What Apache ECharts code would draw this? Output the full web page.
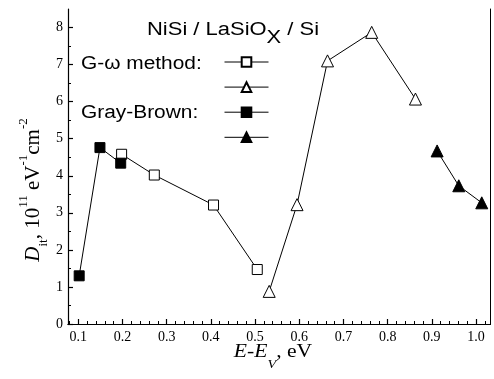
<!DOCTYPE html>
<html>
<head>
<meta charset="utf-8">
<script src="https://cdn.jsdelivr.net/npm/echarts@6/dist/echarts.min.js"></script>
<style>
	html, body { margin: 0; padding: 0; background: #fff; }
	#chart { width: 494px; height: 379px; }
</style>
</head>
<body>
<div id="chart"></div>
<script>
// G-omega method
const gwSquareE = [0.198, 0.272, 0.406, 0.505];
const gwSquareD = [4.58, 4.02, 3.21, 1.47];
const gwTriangleE = [0.532, 0.595, 0.664, 0.764, 0.863];
const gwTriangleD = [0.88, 3.22, 7.1, 7.87, 6.07];
// Gray-Brown
const gbSquareE = [0.102, 0.149, 0.196];
const gbSquareD = [1.3, 4.76, 4.34];
const gbTriangleE = [0.912, 0.961, 1.013];
const gbTriangleD = [4.67, 3.73, 3.27];

const xTickLabels = [0.1, 0.2, 0.3, 0.4, 0.5, 0.6, 0.7, 0.8, 0.9, 1.0];
const yTickLabels = [0, 1, 2, 3, 4, 5, 6, 7, 8];

const xMinorTicks = [];
for (let i = 4; i <= 51; i++) if (i % 5 !== 0) xMinorTicks.push(i * 0.02);
const yMinorTicks = yTickLabels.slice(0, -1).map((v) => v + 0.5);

const X_MIN = 0.0767, X_MAX = 1.0328;
const Y_MIN = 0, Y_MAX = 8.5;

const serif = "Liberation Serif";
const sans = "Liberation Sans";

const pts = (xs, ys) => xs.map((x, i) => [x, ys[i]]);
const black = { color: "#000", width: 1 };

function mark(name, xs, ys, symbol, size, filled) {
	return {
		name,
		type: "line",
		data: pts(xs, ys),
		symbol,
		symbolSize: size,
		showSymbol: true,
		lineStyle: black,
		itemStyle: { color: filled ? "#000" : "#fff", borderColor: "#000", borderWidth: 1 },
		emphasis: { disabled: true },
		z: 3,
	};
}

const chart = echarts.init(document.getElementById("chart"), null, { renderer: "canvas" });

const baseX = {
	type: "value",
	min: X_MIN,
	max: X_MAX,
	splitLine: { show: false },
	gridIndex: 0,
};
const baseY = {
	type: "value",
	min: Y_MIN,
	max: Y_MAX,
	splitLine: { show: false },
	gridIndex: 0,
};

chart.setOption({
	animation: false,
	grid: { left: 68, right: 3.5, top: 9, bottom: 55 },
	xAxis: [
		{
			...baseX,
			position: "bottom",
			axisLine: { lineStyle: { color: "#000", width: 1.2 } },
			axisTick: { inside: true, length: 5, customValues: xTickLabels, lineStyle: { color: "#000", width: 1.2 } },
			axisLabel: {
				customValues: xTickLabels,
				formatter: (v) => v.toFixed(1),
				color: "#000",
				fontFamily: serif,
				fontSize: 14,
				margin: 6,
			},
		},
		{
			...baseX,
			position: "bottom",
			axisLine: { show: false },
			axisTick: { inside: true, length: 3, customValues: xMinorTicks, lineStyle: { color: "#000", width: 1 } },
			axisLabel: { show: false },
		},
		{
			...baseX,
			position: "top",
			axisLine: { lineStyle: { color: "#000", width: 1, type: [3, 1] } },
			axisTick: { show: false },
			axisLabel: { show: false },
		},
	],
	yAxis: [
		{
			...baseY,
			position: "left",
			axisLine: { show: true, lineStyle: { color: "#000", width: 1.2 } },
			axisTick: { show: true, inside: true, length: 5, customValues: yTickLabels, lineStyle: { color: "#000", width: 1.2 } },
			axisLabel: {
				customValues: yTickLabels,
				color: "#000",
				fontFamily: serif,
				fontSize: 14,
				margin: 5,
			},
		},
		{
			...baseY,
			position: "left",
			axisLine: { show: false },
			axisTick: { show: true, inside: true, length: 3, customValues: yMinorTicks, lineStyle: { color: "#000", width: 1 } },
			axisLabel: { show: false },
		},
		{
			...baseY,
			position: "right",
			axisLine: { show: true, lineStyle: { color: "#000", width: 1 } },
			axisTick: { show: false },
			axisLabel: { show: false },
		},
	],
	legend: {
		orient: "vertical",
		left: 224,
		top: 56,
		padding: 0,
		itemWidth: 44,
		itemHeight: 12,
		itemGap: 13.3,
		selectedMode: false,
		formatter: () => "",
		lineStyle: { width: 1, color: "#000" },
		data: ["gw-square", "gw-triangle", "gb-square", "gb-triangle"],
	},
	series: [
		mark("gw-square", gwSquareE, gwSquareD, "rect", 10, false),
		mark("gw-triangle", gwTriangleE, gwTriangleD, "triangle", 12, false),
		mark("gb-square", gbSquareE, gbSquareD, "rect", 10, true),
		mark("gb-triangle", gbTriangleE, gbTriangleD, "triangle", 12, true),
	],
	graphic: [
		{
			type: "text",
			x: 147,
			y: 21,
			scaleX: 1.22,
			silent: true,
			style: {
				text: "{a|NiSi / LaSiO}{s|X}{a| / Si}",
				align: "left",
				verticalAlign: "top",
				rich: {
					a: { fontFamily: sans, fontSize: 18, lineHeight: 20, verticalAlign: "top" },
					s: { fontFamily: sans, fontSize: 18, lineHeight: 20, verticalAlign: "top", padding: [8, 0, 0, 0] },
				},
			},
		},
		{
			type: "text",
			x: 81,
			y: 64,
			scaleX: 1.16,
			silent: true,
			style: { text: "G-ω method:", fontFamily: sans, fontSize: 18, align: "left", verticalAlign: "middle" },
		},
		{
			type: "text",
			x: 81,
			y: 113,
			scaleX: 1.16,
			silent: true,
			style: { text: "Gray-Brown:", fontFamily: sans, fontSize: 18, align: "left", verticalAlign: "middle" },
		},
		{
			type: "text",
			x: 273,
			y: 343,
			scaleX: 1.2,
			silent: true,
			style: {
				text: "{i|E}{n|-}{i|E}{sub|V}{n|, eV}",
				align: "center",
				verticalAlign: "top",
				rich: {
					i: { fontFamily: serif, fontStyle: "italic", fontSize: 18, lineHeight: 20, verticalAlign: "top" },
					n: { fontFamily: serif, fontSize: 18, lineHeight: 20, verticalAlign: "top" },
					sub: { fontFamily: serif, fontStyle: "italic", fontSize: 12, lineHeight: 12, verticalAlign: "top", padding: [16, 0, 0, 0] },
				},
			},
		},
		{
			type: "text",
			x: 29,
			y: 190,
			rotation: Math.PI / 2,
			silent: true,
			style: {
				text: "{d|D}{sub|it}{n|, 10}{sup|11}{n| eV}{sup|-1}{n|cm}{sup|-2}",
				align: "center",
				verticalAlign: "middle",
				rich: {
					d: { fontFamily: serif, fontStyle: "italic", fontSize: 21, lineHeight: 24, verticalAlign: "top", padding: [6, 0, 0, 0] },
					n: { fontFamily: serif, fontSize: 21, lineHeight: 24, verticalAlign: "top", padding: [6, 0, 0, 0] },
					sub: { fontFamily: serif, fontSize: 13, lineHeight: 14, verticalAlign: "top", padding: [20, 0, 0, 0] },
					sup: { fontFamily: serif, fontSize: 13, lineHeight: 14, verticalAlign: "top" },
				},
			},
		},
	],
});
</script>
</body>
</html>
